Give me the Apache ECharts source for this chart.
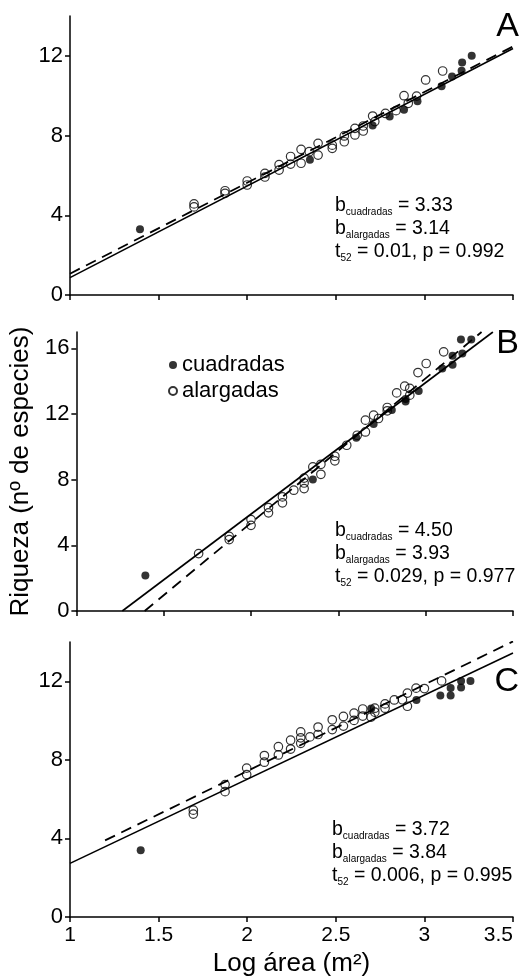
<!DOCTYPE html>
<html>
<head>
<meta charset="utf-8">
<script src="https://cdn.jsdelivr.net/npm/echarts@6/dist/echarts.min.js"></script>
<style>
  html, body { margin: 0; padding: 0; background: #fff; }
  #chart { width: 521px; height: 978px; }
</style>
</head>
<body>
<div id="chart"></div>
<script>
// datos: [log area, riqueza]
var cuadradasA = [[1.395,3.30],[2.354,6.79],[2.708,8.50],[2.804,8.96],[2.885,9.30],[2.961,9.72],[3.097,10.48],[3.156,10.97],[3.210,11.25],[3.213,11.67],[3.267,12.00]];
var alargadasA = [[1.700,4.57],[1.700,4.42],[1.875,5.23],[1.875,5.10],[2.000,5.72],[2.000,5.52],[2.100,6.10],[2.100,5.92],[2.180,6.54],[2.180,6.27],[2.245,6.95],[2.245,6.57],[2.304,7.31],[2.304,6.61],[2.350,7.19],[2.400,7.61],[2.400,7.02],[2.480,7.52],[2.480,7.36],[2.548,7.98],[2.548,7.69],[2.608,8.36],[2.608,8.03],[2.655,8.48],[2.655,8.23],[2.708,8.98],[2.720,8.70],[2.780,9.11],[2.840,9.25],[2.885,10.00],[2.909,9.62],[2.956,9.98],[3.007,10.79],[3.103,11.24]];
var cuadradasB = [[1.395,2.17],[2.354,8.01],[2.603,10.55],[2.702,11.40],[2.806,12.24],[2.885,12.77],[2.885,12.92],[2.960,13.40],[3.095,14.78],[3.154,15.00],[3.154,15.55],[3.210,15.69],[3.202,16.55],[3.261,16.55]];
var alargadasB = [[1.700,3.50],[1.875,4.55],[1.875,4.35],[2.000,5.57],[2.000,5.22],[2.100,6.30],[2.100,5.98],[2.180,6.95],[2.180,6.59],[2.245,7.36],[2.304,8.10],[2.304,7.80],[2.304,7.46],[2.354,8.78],[2.400,8.94],[2.400,8.33],[2.480,9.43],[2.480,9.15],[2.548,10.10],[2.608,10.71],[2.655,11.63],[2.655,10.91],[2.702,11.93],[2.730,11.73],[2.780,12.40],[2.780,12.20],[2.834,13.29],[2.880,13.70],[2.909,13.56],[2.909,13.15],[2.956,14.53],[3.003,15.08],[3.103,15.79]];
var cuadradasC = [[1.399,3.40],[2.700,10.62],[2.955,11.05],[3.090,11.28],[3.148,11.28],[3.148,11.66],[3.207,11.68],[3.207,12.02],[3.260,12.02]];
var alargadasC = [[1.696,5.44],[1.696,5.24],[1.875,6.74],[1.875,6.38],[1.997,7.58],[1.997,7.25],[2.097,8.22],[2.097,7.88],[2.176,8.67],[2.176,8.25],[2.245,9.00],[2.245,8.55],[2.302,9.42],[2.302,9.12],[2.302,8.84],[2.354,9.17],[2.400,9.67],[2.400,9.29],[2.480,10.04],[2.480,9.54],[2.543,10.21],[2.543,9.72],[2.603,10.38],[2.603,10.01],[2.652,10.59],[2.652,10.23],[2.699,10.18],[2.720,10.63],[2.720,10.43],[2.778,10.85],[2.778,10.63],[2.830,11.05],[2.876,11.06],[2.904,11.40],[2.904,10.73],[2.953,11.65],[3.000,11.63],[3.097,12.02]];

// rectas de ajuste (extremos)
var solidA = [[1,0.87],[3.5,12.37]];
var dashedA = [[1,1.07],[3.5,12.47]];
var solidB = [[1.263,0],[3.385,17]];
var dashedB = [[1.391,0],[3.32,17]];
var solidC = [[1,2.73],[3.5,13.44]];
var dashedC = [[1.198,3.9],[3.5,14.03]];

var yMax = [14, 17, 14];
var yTicks = [[0,4,8,12],[0,4,8,12,16],[0,4,8,12]];
var panelLabels = ['A', 'B', 'C'];
var statsText = [
  ['3.33', '3.14', '0.01, p = 0.992'],
  ['4.50', '3.93', '0.029, p = 0.977'],
  ['3.72', '3.84', '0.006, p = 0.995']
];

var font = "'Liberation Sans', Arial, sans-serif";
var gridTops = [16, 332, 642];
var myChart = echarts.init(document.getElementById('chart'));

var grids = [], xAxes = [], yAxes = [], series = [], graphics = [];
var cuad = [cuadradasA, cuadradasB, cuadradasC];
var alar = [alargadasA, alargadasB, alargadasC];
var solids = [solidA, solidB, solidC];
var dasheds = [dashedA, dashedB, dashedC];
var statTops = [196, 521, 820];
var letterTops = [10, 327, 665];

for (var i = 0; i < 3; i++) {
  grids.push({ left: 70, right: 8, top: gridTops[i], height: 279 });
  xAxes.push({
    gridIndex: i, type: 'value', min: 1, max: 3.5, interval: 0.5,
    name: i === 2 ? 'Log área (m²)' : '',
    nameLocation: 'middle', nameGap: 34,
    nameTextStyle: { fontSize: 26, color: '#000', fontFamily: font },
    axisLine: { onZero: false, lineStyle: { color: '#000', width: 1.5 } },
    axisTick: { show: true, length: 5, lineStyle: { color: '#000', width: 1.5 } },
    axisLabel: { show: i === 2, fontSize: 21, color: '#000', fontFamily: font, margin: 8, alignMaxLabel: 'right' },
    splitLine: { show: false }
  });
  yAxes.push({
    gridIndex: i, type: 'value', min: 0, max: yMax[i], interval: 4,
    name: i === 1 ? 'Riqueza (nº de especies)' : '',
    nameLocation: 'middle', nameGap: 32,
    nameTextStyle: { fontSize: 26, color: '#000', fontFamily: font },
    axisLine: { show: true, onZero: false, lineStyle: { color: '#000', width: 1.5 } },
    axisTick: { show: true, length: 5, customValues: yTicks[i], lineStyle: { color: '#000', width: 1.5 } },
    axisLabel: { fontSize: 22, color: '#000', fontFamily: font, margin: 7, customValues: yTicks[i] },
    splitLine: { show: false }
  });
  series.push({
    name: 'alargadas', type: 'scatter', xAxisIndex: i, yAxisIndex: i,
    symbol: 'circle', symbolSize: 8.5, data: alar[i], z: 2,
    itemStyle: { color: 'rgba(255,255,255,0)', borderColor: '#000', borderWidth: 1.2 }
  });
  series.push({
    name: 'ajuste1', type: 'line', xAxisIndex: i, yAxisIndex: i, data: solids[i],
    symbol: 'none', z: 3, lineStyle: { color: '#000', width: 1.6 }
  });
  series.push({
    name: 'ajuste2', type: 'line', xAxisIndex: i, yAxisIndex: i, data: dasheds[i],
    symbol: 'none', z: 3, lineStyle: { color: '#000', width: 1.8, type: [11, 7] }
  });
  series.push({
    name: 'cuadradas', type: 'scatter', xAxisIndex: i, yAxisIndex: i,
    symbol: 'circle', symbolSize: 8, data: cuad[i], z: 4,
    itemStyle: { color: '#000' }
  });
  graphics.push({
    type: 'text', left: i === 2 ? 332 : 335, top: statTops[i],
    style: {
      text: '{b|b}{s|cuadradas}{b| = ' + statsText[i][0] + '}\n' +
            '{b|b}{s|alargadas}{b| = ' + statsText[i][1] + '}\n' +
            '{b|t}{s|52}{b| = ' + statsText[i][2] + '}',
      fill: '#000',
      rich: {
        b: { fontSize: 19.5, lineHeight: 23, fontFamily: font, color: '#000' },
        s: { fontSize: 10, lineHeight: 23, fontFamily: font, color: '#000', verticalAlign: 'bottom' }
      }
    }
  });
  graphics.push({
    type: 'text', right: 2, top: letterTops[i],
    style: { text: panelLabels[i], fontSize: 34, fontFamily: font, fill: '#000' }
  });
}

var option = {
  animation: false,
  backgroundColor: '#fff',
  grid: grids,
  xAxis: xAxes,
  yAxis: yAxes,
  legend: {
    data: ['cuadradas', 'alargadas'],
    orient: 'vertical', left: 168, top: 354,
    icon: 'circle', itemWidth: 8, itemHeight: 8, itemGap: 4, padding: 0,
    selectedMode: false,
    textStyle: { fontSize: 22, color: '#000', fontFamily: font }
  },
  graphic: graphics,
  series: series
};

myChart.setOption(option);
</script>
</body>
</html>
